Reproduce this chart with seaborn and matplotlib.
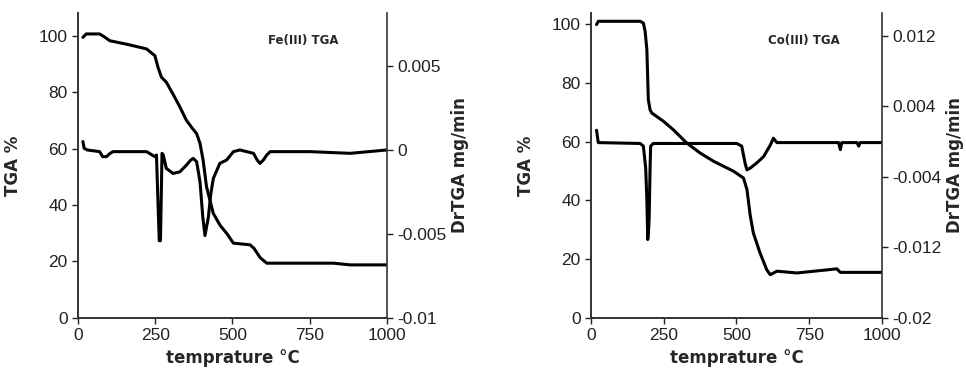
"""TGA / DrTGA curves for Fe(III) and Co(III) complexes."""
import matplotlib
matplotlib.use("Agg")
import matplotlib.pyplot as plt
import seaborn as sns

# Fe(III) TGA curve (temperature, mass %)
fe_tga_t = [16, 27, 70, 85, 103, 160, 222, 249, 259, 270, 286, 308, 330, 351, 370, 384,
            395, 405, 416, 438, 460, 481, 503, 557, 570, 590, 611, 719, 827, 881, 1000]
fe_tga_w = [99.4, 100.6, 100.6, 99.6, 98.2, 96.9, 95.3, 92.9, 88.8, 85.3, 83.5, 79.2,
            74.7, 70.0, 67.2, 65.3, 61.8, 55.9, 46.5, 37.0, 32.8, 30.0, 26.5, 25.9,
            24.6, 21.3, 19.4, 19.4, 19.4, 18.8, 18.8]

# Fe(III) DrTGA curve
fe_dtg_t = [16, 20, 30, 70, 80, 92, 104, 114, 222, 249, 254, 263, 267, 272, 276, 286,
            308, 330, 351, 365, 373, 384, 395, 404, 411, 422, 430, 438, 459, 481, 503,
            524, 546, 568, 580, 589, 600, 611, 622, 750, 881, 1000]
fe_dtg_v = [0.0005, 0.0001, 0.0000, -0.0001, -0.0004, -0.0004, -0.0002, -0.0001,
            -0.0001, -0.0004, -0.0003, -0.0054, -0.0054, -0.0002, -0.0003, -0.0011,
            -0.0014, -0.0013, -0.0009, -0.0006, -0.0005, -0.0007, -0.0019, -0.0040,
            -0.0051, -0.0040, -0.0026, -0.0017, -0.0008, -0.0006, -0.0001, 0.0000,
            -0.0001, -0.0002, -0.0006, -0.0008, -0.0006, -0.0003, -0.0001, -0.0001,
            -0.0002, 0.0000]

# Co(III) TGA curve
co_tga_t = [19, 25, 169, 180, 186, 192, 197, 203, 209, 249, 283, 329, 375, 421, 490, 524,
            536, 547, 558, 581, 604, 616, 639, 708, 845, 857, 994, 1000]
co_tga_w = [99.8, 100.9, 100.9, 100.3, 97.5, 91.3, 74.3, 70.8, 69.7, 66.9, 64.0, 59.5,
            56.1, 53.3, 49.9, 47.6, 43.7, 35.0, 28.9, 22.1, 16.4, 14.7, 15.9, 15.3, 16.7,
            15.5, 15.5, 15.6]

# Co(III) DrTGA curve
co_dtg_t = [19, 25, 169, 180, 188, 192, 195, 198, 200, 203, 205, 214, 501, 518, 530, 536,
            547, 570, 593, 616, 627, 639, 851, 857, 862, 914, 920, 925, 1000]
co_dtg_v = [0.0013, -0.0001, -0.0002, -0.0005, -0.0030, -0.0066, -0.0111, -0.0100,
            -0.0085, -0.0030, -0.0005, -0.0002, -0.0002, -0.0005, -0.0025, -0.0032,
            -0.0030, -0.0024, -0.0017, -0.0004, 0.0004, -0.0001, -0.0001, -0.0009,
            -0.0001, -0.0001, -0.0005, -0.0001, -0.0001]

x_ticks = [0, 250, 500, 750, 1000]
tga_ticks = [0, 20, 40, 60, 80, 100]

sns.set_style("ticks")
plt.rcParams["font.family"] = ["Liberation Sans Narrow", "Liberation Sans", "DejaVu Sans"]

fig = plt.figure(figsize=(9.66, 3.84), dpi=100)


def panel(rect, tga_t, tga_w, dtg_t, dtg_v, title, tga_top, dtg_lim, dtg_ticks, dtg_labels):
    ax = fig.add_axes(rect)
    sns.lineplot(x=tga_t, y=tga_w, ax=ax, color="black", lw=2.2, estimator=None)
    ax.set_xlim(0, 1000)
    ax.set_ylim(0, tga_top)
    ax.set_xticks(x_ticks)
    ax.set_yticks(tga_ticks)
    ax.tick_params(labelsize=12.5, length=4, width=1, direction="out", colors="#222222")
    ax.set_xlabel("temprature °C", fontsize=12, fontweight="bold", family="DejaVu Sans")
    ax.set_ylabel("TGA %", fontsize=12, fontweight="bold", family="DejaVu Sans", labelpad=12)
    ax.spines["top"].set_visible(False)
    ax.spines["right"].set_visible(False)
    ax.text(0.73, 0.9, title, transform=ax.transAxes, fontsize=8.5, fontweight="bold",
            family="DejaVu Sans", ha="center")

    ax2 = ax.twinx()
    sns.lineplot(x=dtg_t, y=dtg_v, ax=ax2, color="black", lw=2.2, estimator=None)
    ax2.set_ylim(*dtg_lim)
    ax2.set_yticks(dtg_ticks)
    ax2.set_yticklabels(dtg_labels)
    ax2.tick_params(labelsize=12.5, length=4, width=1, direction="out", colors="#222222")
    ax2.set_ylabel("DrTGA mg/min", fontsize=12, fontweight="bold", family="DejaVu Sans",
                   labelpad=3)
    ax2.spines["top"].set_visible(False)
    for a in (ax, ax2):
        for s in a.spines.values():
            s.set_color("#333333")
            s.set_linewidth(1.2)


panel([0.0807, 0.172, 0.3199, 0.794], fe_tga_t, fe_tga_w, fe_dtg_t, fe_dtg_v,
      "Fe(III) TGA", 108, (-0.01, 0.00815), [-0.01, -0.005, 0, 0.005],
      ["-0.01", "-0.005", "0", "0.005"])
panel([0.6118, 0.172, 0.3012, 0.794], co_tga_t, co_tga_w, co_dtg_t, co_dtg_v,
      "Co(III) TGA", 103.7, (-0.02, 0.0146), [-0.02, -0.012, -0.004, 0.004, 0.012],
      ["-0.02", "-0.012", "-0.004", "0.004", "0.012"])

fig.savefig("out.png", dpi=100)
